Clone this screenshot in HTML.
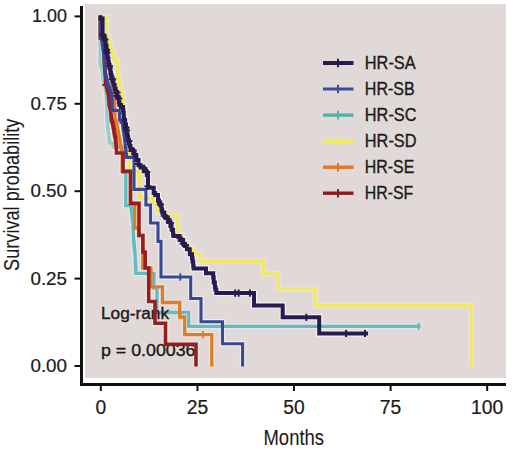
<!DOCTYPE html>
<html><head><meta charset="utf-8"><style>
html,body{margin:0;padding:0;background:#fff;}
svg{display:block;}
text{font-family:"Liberation Sans",sans-serif;fill:#1c1a1a;stroke:#1c1a1a;stroke-width:0.35px;}
</style></head><body>
<svg width="520" height="459" viewBox="0 0 520 459">
<rect x="0" y="0" width="520" height="459" fill="#ffffff"/>
<rect x="85" y="4" width="421" height="374" fill="#e0d9d8"/>
<path d="M100.5 15.6L100.5 17.6L106.5 17.6L106.5 37.0L108.0 37.0L108.0 40.0L108.5 40.0L108.5 41.6L109.5 41.6L109.5 44.9L110.1 44.9L110.1 47.1L111.0 47.1L111.0 50.0L111.5 50.0L111.5 51.7L113.0 51.7L113.0 57.0L114.0 57.0L114.0 59.0L115.3 59.0L115.3 61.5L117.1 61.5L117.1 65.0L117.3 65.0L117.3 70.0L117.4 70.0L117.4 71.8L117.5 71.8L117.5 75.0L118.1 75.0L118.1 78.7L119.0 78.7L119.0 83.7L119.2 83.7L119.2 85.0L120.5 85.0L120.5 90.0L121.1 90.0L121.1 92.6L122.0 92.6L122.0 96.0L122.5 96.0L122.5 98.9L123.3 98.9L123.3 104.0L123.5 104.0L123.5 105.0L123.8 105.0L123.8 107.1L124.1 107.1L124.1 109.3L124.4 109.3L124.4 112.0L124.5 112.0L124.5 114.4L124.5 114.4L124.5 117.9L124.6 117.9L124.6 120.0L125.0 120.0L125.0 122.6L125.2 122.6L125.2 124.1L125.7 124.1L125.7 127.2L126.1 127.2L126.1 130.2L126.6 130.2L126.6 134.0L127.5 134.0L127.5 140.0L128.4 140.0L128.4 144.3L129.1 144.3L129.1 147.8L129.5 147.8L129.5 150.0L129.5 171.0L139.5 171.0L139.5 198.0L151.0 198.0L153.2 198.0L153.2 202.2L154.2 202.2L154.2 203.9L156.9 203.9L156.9 209.0L158.7 209.0L158.7 212.4L166.0 212.4L166.0 216.0L178.0 216.0L178.0 221.0L178.0 235.5L182.0 235.5L182.0 240.0L184.5 240.0L184.5 243.1L187.6 243.1L187.6 247.0L189.5 247.0L189.5 248.9L193.5 248.9L193.5 253.0L194.5 253.0L194.5 254.0L200.5 254.0L200.5 261.4L263.5 261.4L263.5 274.0L278.3 274.0L278.3 288.8L315.0 288.8L315.0 305.4L471.0 305.4L471.0 367.0" stroke="#f7f4f3" stroke-width="5.9" fill="none" stroke-linejoin="miter" opacity="0.35"/>
<path d="M100.1 15.6L100.1 64.0L100.9 64.0L100.9 66.7L101.7 66.7L101.7 69.3L102.5 69.3L102.5 72.0L102.7 72.0L102.7 74.7L102.8 74.7L102.8 77.3L103.0 77.3L103.0 80.0L103.7 80.0L103.7 82.7L104.3 82.7L104.3 85.3L105.0 85.3L105.0 88.0L105.4 88.0L105.4 90.7L105.7 90.7L105.7 93.3L106.1 93.3L106.1 96.0L106.3 96.0L106.3 99.0L106.5 99.0L106.5 102.0L106.7 102.0L106.7 105.0L106.8 105.0L106.8 108.0L106.8 108.0L106.8 111.0L106.9 111.0L106.9 114.0L106.9 114.0L106.9 117.0L107.0 117.0L107.0 120.0L107.3 120.0L107.3 123.0L107.6 123.0L107.6 126.0L107.9 126.0L107.9 129.0L108.2 129.0L108.2 132.0L108.5 132.0L108.5 135.0L108.8 135.0L108.8 137.7L109.2 137.7L109.2 140.3L109.5 140.3L109.5 143.0L113.0 143.0L113.0 147.0L123.0 147.0L123.0 150.0L123.0 172.0L125.8 172.0L125.8 205.7L130.8 205.7L131.1 205.7L131.1 208.5L131.4 208.5L131.4 211.2L131.7 211.2L131.7 214.0L132.1 214.0L132.1 216.7L132.4 216.7L132.4 219.5L132.7 219.5L132.7 222.2L133.0 222.2L133.0 225.0L133.1 225.0L133.1 228.0L133.2 228.0L133.2 231.0L133.3 231.0L133.3 234.0L133.4 234.0L133.4 237.0L133.5 237.0L133.5 240.0L133.8 240.0L133.8 243.0L134.1 243.0L134.1 246.0L134.4 246.0L134.4 249.0L134.7 249.0L134.7 252.0L135.0 252.0L135.0 255.0L135.2 255.0L135.2 258.0L135.3 258.0L135.3 261.0L135.5 261.0L135.5 264.0L135.6 264.0L135.6 267.0L135.8 267.0L135.8 270.0L135.8 273.3L154.0 273.3L154.0 288.0L157.0 288.0L157.0 312.5L188.7 312.5L188.7 326.3L420.5 326.3" stroke="#f7f4f3" stroke-width="5.7" fill="none" stroke-linejoin="miter" opacity="0.45"/>
<path d="M100.5 15.6L100.5 38.0L102.5 38.0L102.5 42.0L103.2 42.0L103.2 44.6L103.8 44.6L103.8 47.2L104.5 47.2L104.5 49.8L105.1 49.8L105.1 52.4L105.8 52.4L105.8 55.0L106.5 55.0L106.5 57.5L107.2 57.5L107.2 60.0L107.8 60.0L107.8 62.5L108.5 62.5L108.5 65.0L109.0 65.0L109.0 67.5L109.5 67.5L109.5 70.0L110.0 70.0L110.0 72.5L110.5 72.5L110.5 75.0L111.0 75.0L111.0 77.5L111.5 77.5L111.5 80.0L112.0 80.0L112.0 82.5L112.5 82.5L112.5 85.0L112.9 85.0L112.9 87.8L113.2 87.8L113.2 90.5L113.6 90.5L113.6 93.2L114.0 93.2L114.0 96.0L114.2 96.0L114.2 99.0L114.4 99.0L114.4 102.0L114.6 102.0L114.6 105.0L114.7 105.0L114.7 108.0L114.8 108.0L114.8 111.0L114.8 111.0L114.8 114.0L114.9 114.0L114.9 117.0L115.0 117.0L115.0 120.0L115.8 120.0L115.8 122.5L116.5 122.5L116.5 125.0L117.1 125.0L117.1 128.0L117.7 128.0L117.7 131.0L118.3 131.0L118.3 134.0L118.9 134.0L118.9 137.0L119.5 137.0L119.5 140.0L120.0 140.0L120.0 143.0L120.5 143.0L120.5 146.0L121.1 146.0L121.1 149.0L121.6 149.0L121.6 152.0L122.1 152.0L122.1 155.0L122.1 171.4L130.5 171.4L130.5 203.4L134.8 203.4L134.8 228.0L138.5 228.0L138.5 235.5L142.8 235.5L142.8 268.0L151.0 268.0L151.0 286.8L162.5 286.8L162.5 302.5L179.7 302.5L179.7 317.0L184.7 317.0L184.7 334.6L211.8 334.6L211.8 366.5" stroke="#f7f4f3" stroke-width="5.7" fill="none" stroke-linejoin="miter" opacity="0.45"/>
<path d="M100.3 15.6L100.3 38.0L102.2 38.0L102.2 40.0L102.5 40.0L102.5 42.5L102.8 42.5L102.8 45.0L103.2 45.0L103.2 47.5L103.5 47.5L103.5 50.0L103.8 50.0L103.8 53.5L104.0 53.5L104.0 57.0L104.2 57.0L104.2 59.7L104.3 59.7L104.3 62.3L104.5 62.3L104.5 65.0L104.7 65.0L104.7 67.5L104.9 67.5L104.9 70.0L105.1 70.0L105.1 72.5L105.3 72.5L105.3 75.0L105.5 75.0L105.5 78.0L105.6 78.0L105.6 81.0L105.8 81.0L105.8 84.0L106.5 84.0L106.5 87.0L107.2 87.0L107.2 90.0L107.8 90.0L107.8 93.0L108.5 93.0L108.5 96.0L108.7 96.0L108.7 99.0L109.0 99.0L109.0 102.0L109.2 102.0L109.2 105.0L109.8 105.0L109.8 107.5L110.5 107.5L110.5 110.0L110.7 110.0L110.7 112.5L110.9 112.5L110.9 115.0L111.1 115.0L111.1 117.5L111.3 117.5L111.3 120.0L112.0 120.0L112.0 122.5L112.8 122.5L112.8 125.0L113.2 125.0L113.2 127.5L113.7 127.5L113.7 130.0L114.1 130.0L114.1 132.5L114.5 132.5L114.5 135.0L115.0 135.0L115.0 137.5L115.5 137.5L115.5 140.0L115.8 140.0L115.8 142.5L116.0 142.5L116.0 145.0L116.2 145.0L116.2 147.5L116.5 147.5L116.5 150.0L116.5 153.0L123.0 153.0L123.0 171.4L130.5 171.4L130.5 203.4L139.0 203.4L139.0 235.5L142.9 235.5L142.9 252.0L145.2 252.0L145.2 268.0L148.7 268.0L148.7 301.5L155.0 301.5L155.0 323.3L165.5 323.3L165.5 344.4L196.0 344.4L196.0 366.5" stroke="#f7f4f3" stroke-width="6.0" fill="none" stroke-linejoin="miter" opacity="0.60"/>
<path d="M100.3 15.6L100.3 38.0L102.2 38.0L102.2 40.0L102.5 40.0L102.5 42.5L102.8 42.5L102.8 45.0L103.2 45.0L103.2 47.5L103.5 47.5L103.5 50.0L103.8 50.0L103.8 53.5L104.0 53.5L104.0 57.0L104.2 57.0L104.2 59.7L104.3 59.7L104.3 62.3L104.5 62.3L104.5 65.0L104.8 65.0L104.8 67.5L105.0 67.5L105.0 70.0L105.2 70.0L105.2 72.5L105.5 72.5L105.5 75.0L106.1 75.0L106.1 77.5L106.8 77.5L106.8 80.0L107.4 80.0L107.4 82.5L108.0 82.5L108.0 85.0L108.9 85.0L108.9 87.8L109.8 87.8L109.8 90.5L110.7 90.5L110.7 93.2L111.6 93.2L111.6 96.0L111.8 96.0L111.8 99.0L112.0 99.0L112.0 102.0L112.2 102.0L112.2 105.0L112.2 110.4L119.2 110.4L119.3 110.4L119.3 113.6L119.5 113.6L119.5 116.8L119.6 116.8L119.6 120.0L121.0 120.0L121.0 122.5L122.5 122.5L122.5 125.0L122.9 125.0L122.9 128.0L123.3 128.0L123.3 131.0L123.8 131.0L123.8 134.0L124.2 134.0L124.2 137.0L124.6 137.0L124.6 140.0L124.9 140.0L124.9 142.9L125.2 142.9L125.2 145.8L125.5 145.8L125.5 148.7L125.9 148.7L125.9 151.6L126.2 151.6L126.2 154.5L126.5 154.5L126.5 157.4L134.0 157.4L134.0 189.4L145.9 189.4L145.9 205.0L150.5 205.0L150.5 223.0L158.0 223.0L158.0 241.4L161.0 241.4L161.0 277.0L190.7 277.0L190.7 298.5L201.0 298.5L201.0 321.8L222.5 321.8L222.5 343.8L242.6 343.8L242.6 366.5" stroke="#f7f4f3" stroke-width="5.5" fill="none" stroke-linejoin="miter" opacity="0.75"/>
<path d="M100.5 15.6L100.5 18.6L102.6 18.6L102.6 36.0L104.5 36.0L104.5 38.0L104.9 38.0L104.9 40.1L105.5 40.1L105.5 44.2L105.8 44.2L105.8 46.0L106.5 46.0L106.5 50.0L106.9 50.0L106.9 53.0L107.2 53.0L107.2 54.7L107.5 54.7L107.5 57.0L107.8 57.0L107.8 58.6L108.4 58.6L108.4 61.9L108.7 61.9L108.7 63.7L109.0 63.7L109.0 65.0L109.6 65.0L109.6 68.2L110.6 68.2L110.6 73.0L111.0 73.0L111.0 75.0L111.6 75.0L111.6 77.4L112.6 77.4L112.6 81.4L113.5 81.4L113.5 85.0L114.7 85.0L114.7 88.8L115.7 88.8L115.7 91.9L117.0 91.9L117.0 96.0L117.5 96.0L117.5 97.7L118.8 97.7L118.8 102.6L119.5 102.6L119.5 105.0L121.0 105.0L121.0 107.1L123.0 107.1L123.0 110.0L123.3 110.0L123.3 112.7L123.7 112.7L123.7 117.5L124.0 117.5L124.0 120.0L125.1 120.0L125.1 123.8L125.5 123.8L125.5 125.0L126.0 125.0L126.0 128.0L126.6 128.0L126.6 131.7L126.9 131.7L126.9 133.4L127.2 133.4L127.2 135.0L127.7 135.0L127.7 137.3L128.2 137.3L128.2 140.0L128.9 140.0L128.9 143.2L129.6 143.2L129.6 146.0L130.5 146.0L130.5 150.0L133.2 150.0L133.2 153.3L134.6 153.3L134.6 155.0L136.4 155.0L136.4 160.0L138.5 160.0L138.5 165.0L140.6 165.0L140.6 167.5L143.8 167.5L143.8 171.3L146.8 171.3L146.8 174.9L148.0 174.9L148.0 176.3L148.0 187.7L153.7 187.7L153.7 192.9L155.2 192.9L155.2 195.0L158.0 195.0L158.0 200.4L159.0 200.4L159.0 202.4L160.3 202.4L160.3 205.0L161.5 205.0L161.5 209.5L162.2 209.5L162.2 212.4L164.3 212.4L164.3 215.9L165.3 215.9L165.3 217.5L167.8 217.5L167.8 221.7L170.4 221.7L170.4 226.0L171.6 226.0L171.6 229.8L173.1 229.8L173.1 234.8L173.5 234.8L173.5 236.0L179.6 236.0L179.6 240.0L183.1 240.0L183.1 243.9L185.0 243.9L185.0 246.0L186.9 246.0L186.9 249.3L189.8 249.3L189.8 254.2L192.0 254.2L192.0 258.0L192.5 258.0L192.5 261.4L193.2 261.4L193.2 265.6L193.5 265.6L193.5 267.3L193.7 267.3L193.7 268.5L206.0 268.5L206.0 273.3L212.8 273.3L213.2 273.3L213.2 277.4L213.7 277.4L213.7 282.4L214.9 282.4L214.9 287.2L215.5 287.2L215.5 289.8L216.3 289.8L216.3 293.1L254.0 293.1L254.0 305.4L282.7 305.4L282.7 317.3L319.2 317.3L319.2 333.5L368.0 333.5" stroke="#f7f4f3" stroke-width="6.4" fill="none" stroke-linejoin="miter" opacity="0.85"/>
<path d="M100.5 15.6L100.5 17.6L106.5 17.6L106.5 37.0L108.0 37.0L108.0 40.0L108.5 40.0L108.5 41.6L109.5 41.6L109.5 44.9L110.1 44.9L110.1 47.1L111.0 47.1L111.0 50.0L111.5 50.0L111.5 51.7L113.0 51.7L113.0 57.0L114.0 57.0L114.0 59.0L115.3 59.0L115.3 61.5L117.1 61.5L117.1 65.0L117.3 65.0L117.3 70.0L117.4 70.0L117.4 71.8L117.5 71.8L117.5 75.0L118.1 75.0L118.1 78.7L119.0 78.7L119.0 83.7L119.2 83.7L119.2 85.0L120.5 85.0L120.5 90.0L121.1 90.0L121.1 92.6L122.0 92.6L122.0 96.0L122.5 96.0L122.5 98.9L123.3 98.9L123.3 104.0L123.5 104.0L123.5 105.0L123.8 105.0L123.8 107.1L124.1 107.1L124.1 109.3L124.4 109.3L124.4 112.0L124.5 112.0L124.5 114.4L124.5 114.4L124.5 117.9L124.6 117.9L124.6 120.0L125.0 120.0L125.0 122.6L125.2 122.6L125.2 124.1L125.7 124.1L125.7 127.2L126.1 127.2L126.1 130.2L126.6 130.2L126.6 134.0L127.5 134.0L127.5 140.0L128.4 140.0L128.4 144.3L129.1 144.3L129.1 147.8L129.5 147.8L129.5 150.0L129.5 171.0L139.5 171.0L139.5 198.0L151.0 198.0L153.2 198.0L153.2 202.2L154.2 202.2L154.2 203.9L156.9 203.9L156.9 209.0L158.7 209.0L158.7 212.4L166.0 212.4L166.0 216.0L178.0 216.0L178.0 221.0L178.0 235.5L182.0 235.5L182.0 240.0L184.5 240.0L184.5 243.1L187.6 243.1L187.6 247.0L189.5 247.0L189.5 248.9L193.5 248.9L193.5 253.0L194.5 253.0L194.5 254.0L200.5 254.0L200.5 261.4L263.5 261.4L263.5 274.0L278.3 274.0L278.3 288.8L315.0 288.8L315.0 305.4L471.0 305.4L471.0 367.0" stroke="#f1e866" stroke-width="3.5" fill="none" stroke-linejoin="miter"/>
<path d="M100.1 15.6L100.1 64.0L100.9 64.0L100.9 66.7L101.7 66.7L101.7 69.3L102.5 69.3L102.5 72.0L102.7 72.0L102.7 74.7L102.8 74.7L102.8 77.3L103.0 77.3L103.0 80.0L103.7 80.0L103.7 82.7L104.3 82.7L104.3 85.3L105.0 85.3L105.0 88.0L105.4 88.0L105.4 90.7L105.7 90.7L105.7 93.3L106.1 93.3L106.1 96.0L106.3 96.0L106.3 99.0L106.5 99.0L106.5 102.0L106.7 102.0L106.7 105.0L106.8 105.0L106.8 108.0L106.8 108.0L106.8 111.0L106.9 111.0L106.9 114.0L106.9 114.0L106.9 117.0L107.0 117.0L107.0 120.0L107.3 120.0L107.3 123.0L107.6 123.0L107.6 126.0L107.9 126.0L107.9 129.0L108.2 129.0L108.2 132.0L108.5 132.0L108.5 135.0L108.8 135.0L108.8 137.7L109.2 137.7L109.2 140.3L109.5 140.3L109.5 143.0L113.0 143.0L113.0 147.0L123.0 147.0L123.0 150.0" stroke="#94cfcc" stroke-width="3.3" fill="none" stroke-linejoin="miter"/>
<path d="M123.0 150.0L123.0 172.0L125.8 172.0L125.8 205.7L130.8 205.7L131.1 205.7L131.1 208.5L131.4 208.5L131.4 211.2L131.7 211.2L131.7 214.0L132.1 214.0L132.1 216.7L132.4 216.7L132.4 219.5L132.7 219.5L132.7 222.2L133.0 222.2L133.0 225.0L133.1 225.0L133.1 228.0L133.2 228.0L133.2 231.0L133.3 231.0L133.3 234.0L133.4 234.0L133.4 237.0L133.5 237.0L133.5 240.0L133.8 240.0L133.8 243.0L134.1 243.0L134.1 246.0L134.4 246.0L134.4 249.0L134.7 249.0L134.7 252.0L135.0 252.0L135.0 255.0L135.2 255.0L135.2 258.0L135.3 258.0L135.3 261.0L135.5 261.0L135.5 264.0L135.6 264.0L135.6 267.0L135.8 267.0L135.8 270.0L135.8 273.3L154.0 273.3L154.0 288.0L157.0 288.0L157.0 312.5L188.7 312.5L188.7 326.3L420.5 326.3" stroke="#62bcbf" stroke-width="3.3" fill="none" stroke-linejoin="miter"/>
<line x1="418.6" y1="322.7" x2="418.6" y2="329.9" stroke="#62bcbf" stroke-width="2"/>
<path d="M100.5 15.6L100.5 38.0L102.5 38.0L102.5 42.0L103.2 42.0L103.2 44.6L103.8 44.6L103.8 47.2L104.5 47.2L104.5 49.8L105.1 49.8L105.1 52.4L105.8 52.4L105.8 55.0L106.5 55.0L106.5 57.5L107.2 57.5L107.2 60.0L107.8 60.0L107.8 62.5L108.5 62.5L108.5 65.0L109.0 65.0L109.0 67.5L109.5 67.5L109.5 70.0L110.0 70.0L110.0 72.5L110.5 72.5L110.5 75.0L111.0 75.0L111.0 77.5L111.5 77.5L111.5 80.0L112.0 80.0L112.0 82.5L112.5 82.5L112.5 85.0L112.9 85.0L112.9 87.8L113.2 87.8L113.2 90.5L113.6 90.5L113.6 93.2L114.0 93.2L114.0 96.0L114.2 96.0L114.2 99.0L114.4 99.0L114.4 102.0L114.6 102.0L114.6 105.0L114.7 105.0L114.7 108.0L114.8 108.0L114.8 111.0L114.8 111.0L114.8 114.0L114.9 114.0L114.9 117.0L115.0 117.0L115.0 120.0L115.8 120.0L115.8 122.5L116.5 122.5L116.5 125.0L117.1 125.0L117.1 128.0L117.7 128.0L117.7 131.0L118.3 131.0L118.3 134.0L118.9 134.0L118.9 137.0L119.5 137.0L119.5 140.0L120.0 140.0L120.0 143.0L120.5 143.0L120.5 146.0L121.1 146.0L121.1 149.0L121.6 149.0L121.6 152.0L122.1 152.0L122.1 155.0L122.1 171.4L130.5 171.4L130.5 203.4L134.8 203.4L134.8 228.0L138.5 228.0L138.5 235.5L142.8 235.5L142.8 268.0L151.0 268.0L151.0 286.8L162.5 286.8L162.5 302.5L179.7 302.5L179.7 317.0L184.7 317.0L184.7 334.6L211.8 334.6L211.8 366.5" stroke="#e07c28" stroke-width="3.3" fill="none" stroke-linejoin="miter"/>
<line x1="202.9" y1="331.0" x2="202.9" y2="338.2" stroke="#e07c28" stroke-width="2"/>
<text x="101" y="319.2" font-size="16" textLength="68" lengthAdjust="spacingAndGlyphs">Log-rank</text>
<text x="101" y="355.6" font-size="16" textLength="94.5" lengthAdjust="spacingAndGlyphs">p = 0.00036</text>
<path d="M100.3 15.6L100.3 38.0L102.2 38.0L102.2 40.0L102.5 40.0L102.5 42.5L102.8 42.5L102.8 45.0L103.2 45.0L103.2 47.5L103.5 47.5L103.5 50.0L103.8 50.0L103.8 53.5L104.0 53.5L104.0 57.0L104.2 57.0L104.2 59.7L104.3 59.7L104.3 62.3L104.5 62.3L104.5 65.0L104.7 65.0L104.7 67.5L104.9 67.5L104.9 70.0L105.1 70.0L105.1 72.5L105.3 72.5L105.3 75.0L105.5 75.0L105.5 78.0L105.6 78.0L105.6 81.0L105.8 81.0L105.8 84.0L106.5 84.0L106.5 87.0L107.2 87.0L107.2 90.0L107.8 90.0L107.8 93.0L108.5 93.0L108.5 96.0L108.7 96.0L108.7 99.0L109.0 99.0L109.0 102.0L109.2 102.0L109.2 105.0L109.8 105.0L109.8 107.5L110.5 107.5L110.5 110.0L110.7 110.0L110.7 112.5L110.9 112.5L110.9 115.0L111.1 115.0L111.1 117.5L111.3 117.5L111.3 120.0L112.0 120.0L112.0 122.5L112.8 122.5L112.8 125.0L113.2 125.0L113.2 127.5L113.7 127.5L113.7 130.0L114.1 130.0L114.1 132.5L114.5 132.5L114.5 135.0L115.0 135.0L115.0 137.5L115.5 137.5L115.5 140.0L115.8 140.0L115.8 142.5L116.0 142.5L116.0 145.0L116.2 145.0L116.2 147.5L116.5 147.5L116.5 150.0L116.5 153.0L123.0 153.0L123.0 171.4L130.5 171.4L130.5 203.4L139.0 203.4L139.0 235.5L142.9 235.5L142.9 252.0L145.2 252.0L145.2 268.0L148.7 268.0L148.7 301.5L155.0 301.5L155.0 323.3L165.5 323.3L165.5 344.4L196.0 344.4L196.0 366.5" stroke="#951f20" stroke-width="3.6" fill="none" stroke-linejoin="miter"/>
<path d="M102.3 85.0h7M105.8 81.5v7" stroke="#951f20" stroke-width="2"/>
<path d="M100.3 15.6L100.3 38.0L102.2 38.0L102.2 40.0L102.5 40.0L102.5 42.5L102.8 42.5L102.8 45.0L103.2 45.0L103.2 47.5L103.5 47.5L103.5 50.0L103.8 50.0L103.8 53.5L104.0 53.5L104.0 57.0L104.2 57.0L104.2 59.7L104.3 59.7L104.3 62.3L104.5 62.3L104.5 65.0L104.8 65.0L104.8 67.5L105.0 67.5L105.0 70.0L105.2 70.0L105.2 72.5L105.5 72.5L105.5 75.0L106.1 75.0L106.1 77.5L106.8 77.5L106.8 80.0L107.4 80.0L107.4 82.5L108.0 82.5L108.0 85.0L108.9 85.0L108.9 87.8L109.8 87.8L109.8 90.5L110.7 90.5L110.7 93.2L111.6 93.2L111.6 96.0L111.8 96.0L111.8 99.0L112.0 99.0L112.0 102.0L112.2 102.0L112.2 105.0L112.2 110.4L119.2 110.4L119.3 110.4L119.3 113.6L119.5 113.6L119.5 116.8L119.6 116.8L119.6 120.0L121.0 120.0L121.0 122.5L122.5 122.5L122.5 125.0L122.9 125.0L122.9 128.0L123.3 128.0L123.3 131.0L123.8 131.0L123.8 134.0L124.2 134.0L124.2 137.0L124.6 137.0L124.6 140.0L124.9 140.0L124.9 142.9L125.2 142.9L125.2 145.8L125.5 145.8L125.5 148.7L125.9 148.7L125.9 151.6L126.2 151.6L126.2 154.5L126.5 154.5L126.5 157.4L134.0 157.4L134.0 189.4L145.9 189.4L145.9 205.0L150.5 205.0L150.5 223.0L158.0 223.0L158.0 241.4L161.0 241.4L161.0 277.0L190.7 277.0L190.7 298.5L201.0 298.5L201.0 321.8L222.5 321.8L222.5 343.8L242.6 343.8L242.6 366.5" stroke="#394896" stroke-width="3.1" fill="none" stroke-linejoin="miter"/>
<line x1="180.3" y1="273.4" x2="180.3" y2="280.6" stroke="#394896" stroke-width="2"/>
<path d="M100.5 15.6L100.5 18.6L102.6 18.6L102.6 36.0L104.5 36.0L104.5 38.0L104.9 38.0L104.9 40.1L105.5 40.1L105.5 44.2L105.8 44.2L105.8 46.0L106.5 46.0L106.5 50.0L106.9 50.0L106.9 53.0L107.2 53.0L107.2 54.7L107.5 54.7L107.5 57.0L107.8 57.0L107.8 58.6L108.4 58.6L108.4 61.9L108.7 61.9L108.7 63.7L109.0 63.7L109.0 65.0L109.6 65.0L109.6 68.2L110.6 68.2L110.6 73.0L111.0 73.0L111.0 75.0L111.6 75.0L111.6 77.4L112.6 77.4L112.6 81.4L113.5 81.4L113.5 85.0L114.7 85.0L114.7 88.8L115.7 88.8L115.7 91.9L117.0 91.9L117.0 96.0L117.5 96.0L117.5 97.7L118.8 97.7L118.8 102.6L119.5 102.6L119.5 105.0L121.0 105.0L121.0 107.1L123.0 107.1L123.0 110.0L123.3 110.0L123.3 112.7L123.7 112.7L123.7 117.5L124.0 117.5L124.0 120.0L125.1 120.0L125.1 123.8L125.5 123.8L125.5 125.0L126.0 125.0L126.0 128.0L126.6 128.0L126.6 131.7L126.9 131.7L126.9 133.4L127.2 133.4L127.2 135.0L127.7 135.0L127.7 137.3L128.2 137.3L128.2 140.0L128.9 140.0L128.9 143.2L129.6 143.2L129.6 146.0L130.5 146.0L130.5 150.0L133.2 150.0L133.2 153.3L134.6 153.3L134.6 155.0L136.4 155.0L136.4 160.0L138.5 160.0L138.5 165.0L140.6 165.0L140.6 167.5L143.8 167.5L143.8 171.3L146.8 171.3L146.8 174.9L148.0 174.9L148.0 176.3L148.0 187.7L153.7 187.7L153.7 192.9L155.2 192.9L155.2 195.0L158.0 195.0L158.0 200.4L159.0 200.4L159.0 202.4L160.3 202.4L160.3 205.0L161.5 205.0L161.5 209.5L162.2 209.5L162.2 212.4L164.3 212.4L164.3 215.9L165.3 215.9L165.3 217.5L167.8 217.5L167.8 221.7L170.4 221.7L170.4 226.0L171.6 226.0L171.6 229.8L173.1 229.8L173.1 234.8L173.5 234.8L173.5 236.0L179.6 236.0L179.6 240.0L183.1 240.0L183.1 243.9L185.0 243.9L185.0 246.0L186.9 246.0L186.9 249.3L189.8 249.3L189.8 254.2L192.0 254.2L192.0 258.0L192.5 258.0L192.5 261.4L193.2 261.4L193.2 265.6L193.5 265.6L193.5 267.3L193.7 267.3L193.7 268.5L206.0 268.5L206.0 273.3L212.8 273.3L213.2 273.3L213.2 277.4L213.7 277.4L213.7 282.4L214.9 282.4L214.9 287.2L215.5 287.2L215.5 289.8L216.3 289.8L216.3 293.1L254.0 293.1L254.0 305.4L282.7 305.4L282.7 317.3L319.2 317.3L319.2 333.5L368.0 333.5" stroke="#271b50" stroke-width="4.0" fill="none" stroke-linejoin="miter"/>
<line x1="235.1" y1="289.5" x2="235.1" y2="296.7" stroke="#271b50" stroke-width="2"/>
<line x1="238.6" y1="289.5" x2="238.6" y2="296.7" stroke="#271b50" stroke-width="2"/>
<line x1="249.9" y1="289.5" x2="249.9" y2="296.7" stroke="#271b50" stroke-width="2"/>
<line x1="306.3" y1="313.7" x2="306.3" y2="320.9" stroke="#271b50" stroke-width="2"/>
<line x1="346.1" y1="329.9" x2="346.1" y2="337.1" stroke="#271b50" stroke-width="2"/>
<line x1="365.0" y1="329.9" x2="365.0" y2="337.1" stroke="#271b50" stroke-width="2"/>
<path d="M99.1 34.5h7M102.6 31.0v7" stroke="#271b50" stroke-width="2"/>
<path d="M101.4 39.6h7M104.9 36.1v7" stroke="#271b50" stroke-width="2"/>
<path d="M103.0 50.0h7M106.5 46.5v7" stroke="#271b50" stroke-width="2"/>
<path d="M103.4 52.7h7M106.9 49.2v7" stroke="#271b50" stroke-width="2"/>
<path d="M106.1 66.3h7M109.6 62.8v7" stroke="#271b50" stroke-width="2"/>
<path d="M109.1 79.3h7M112.6 75.8v7" stroke="#271b50" stroke-width="2"/>
<path d="M113.5 92.4h7M117.0 88.9v7" stroke="#271b50" stroke-width="2"/>
<path d="M113.5 96.0h7M117.0 92.5v7" stroke="#271b50" stroke-width="2"/>
<path d="M115.3 98.5h7M118.8 95.0v7" stroke="#271b50" stroke-width="2"/>
<path d="M122.5 127.8h7M126.0 124.3v7" stroke="#271b50" stroke-width="2"/>
<path d="M123.1 130.5h7M126.6 127.0v7" stroke="#271b50" stroke-width="2"/>
<path d="M125.4 140.9h7M128.9 137.4v7" stroke="#271b50" stroke-width="2"/>
<path d="M129.7 150.6h7M133.2 147.1v7" stroke="#271b50" stroke-width="2"/>
<path d="M135.0 164.0h7M138.5 160.5v7" stroke="#271b50" stroke-width="2"/>
<path d="M140.3 167.9h7M143.8 164.4v7" stroke="#271b50" stroke-width="2"/>
<path d="M143.3 172.0h7M146.8 168.5v7" stroke="#271b50" stroke-width="2"/>
<path d="M144.5 186.3h7M148.0 182.8v7" stroke="#271b50" stroke-width="2"/>
<path d="M156.8 204.6h7M160.3 201.1v7" stroke="#271b50" stroke-width="2"/>
<path d="M160.8 215.7h7M164.3 212.2v7" stroke="#271b50" stroke-width="2"/>
<path d="M164.3 219.0h7M167.8 215.5v7" stroke="#271b50" stroke-width="2"/>
<path d="M166.9 222.9h7M170.4 219.4v7" stroke="#271b50" stroke-width="2"/>
<path d="M176.1 237.8h7M179.6 234.3v7" stroke="#271b50" stroke-width="2"/>
<path d="M179.6 243.4h7M183.1 239.9v7" stroke="#271b50" stroke-width="2"/>

<line x1="323" y1="63.0" x2="353.5" y2="63.0" stroke="#281c52" stroke-width="4.0"/>
<line x1="338" y1="58.7" x2="338" y2="67.3" stroke="#281c52" stroke-width="2"/>
<text x="364.8" y="68.6" font-size="17.6" textLength="50.9" lengthAdjust="spacingAndGlyphs">HR-SA</text>
<line x1="323" y1="89.0" x2="353.5" y2="89.0" stroke="#3a4c9c" stroke-width="3.0"/>
<line x1="338" y1="84.8" x2="338" y2="93.3" stroke="#3a4c9c" stroke-width="2"/>
<text x="364.8" y="94.6" font-size="17.6" textLength="50.0" lengthAdjust="spacingAndGlyphs">HR-SB</text>
<line x1="323" y1="115.1" x2="353.5" y2="115.1" stroke="#52b3a8" stroke-width="3.4"/>
<line x1="338" y1="110.8" x2="338" y2="119.4" stroke="#52b3a8" stroke-width="2"/>
<text x="364.8" y="120.7" font-size="17.6" textLength="51.7" lengthAdjust="spacingAndGlyphs">HR-SC</text>
<line x1="323" y1="141.2" x2="353.5" y2="141.2" stroke="#f1ec5c" stroke-width="3.6"/>
<line x1="338" y1="136.8" x2="338" y2="145.5" stroke="#f1ec5c" stroke-width="2"/>
<text x="364.8" y="146.8" font-size="17.6" textLength="51.7" lengthAdjust="spacingAndGlyphs">HR-SD</text>
<line x1="323" y1="167.2" x2="353.5" y2="167.2" stroke="#e2772a" stroke-width="3.4"/>
<line x1="338" y1="162.9" x2="338" y2="171.5" stroke="#e2772a" stroke-width="2"/>
<text x="364.8" y="172.8" font-size="17.6" textLength="49.5" lengthAdjust="spacingAndGlyphs">HR-SE</text>
<line x1="323" y1="193.2" x2="353.5" y2="193.2" stroke="#8c1c1e" stroke-width="3.4"/>
<line x1="338" y1="188.9" x2="338" y2="197.6" stroke="#8c1c1e" stroke-width="2"/>
<text x="364.8" y="198.8" font-size="17.6" textLength="48.5" lengthAdjust="spacingAndGlyphs">HR-SF</text>

<line x1="81.5" y1="6" x2="81.5" y2="386" stroke="#111" stroke-width="3"/>
<line x1="80" y1="384.5" x2="506" y2="384.5" stroke="#111" stroke-width="3"/>
<line x1="74.5" y1="16.4" x2="80" y2="16.4" stroke="#111" stroke-width="2"/>
<text x="67" y="22.4" font-size="18.8" text-anchor="end" textLength="35" lengthAdjust="spacingAndGlyphs" style="stroke-width:0.2px">1.00</text>
<line x1="74.5" y1="103.8" x2="80" y2="103.8" stroke="#111" stroke-width="2"/>
<text x="67" y="109.8" font-size="18.8" text-anchor="end" style="stroke-width:0.2px">0.75</text>
<line x1="74.5" y1="191.2" x2="80" y2="191.2" stroke="#111" stroke-width="2"/>
<text x="67" y="197.2" font-size="18.8" text-anchor="end" style="stroke-width:0.2px">0.50</text>
<line x1="74.5" y1="278.6" x2="80" y2="278.6" stroke="#111" stroke-width="2"/>
<text x="67" y="284.6" font-size="18.8" text-anchor="end" style="stroke-width:0.2px">0.25</text>
<line x1="74.5" y1="366.0" x2="80" y2="366.0" stroke="#111" stroke-width="2"/>
<text x="67" y="372.0" font-size="18.8" text-anchor="end" style="stroke-width:0.2px">0.00</text>
<line x1="100.8" y1="386" x2="100.8" y2="391" stroke="#111" stroke-width="2"/>
<text x="100.8" y="414.2" font-size="19.3" text-anchor="middle" style="stroke-width:0.2px">0</text>
<line x1="197.5" y1="386" x2="197.5" y2="391" stroke="#111" stroke-width="2"/>
<text x="197.5" y="414.2" font-size="19.3" text-anchor="middle" style="stroke-width:0.2px">25</text>
<line x1="294.0" y1="386" x2="294.0" y2="391" stroke="#111" stroke-width="2"/>
<text x="294.0" y="414.2" font-size="19.3" text-anchor="middle" style="stroke-width:0.2px">50</text>
<line x1="390.6" y1="386" x2="390.6" y2="391" stroke="#111" stroke-width="2"/>
<text x="390.6" y="414.2" font-size="19.3" text-anchor="middle" style="stroke-width:0.2px">75</text>
<line x1="487.2" y1="386" x2="487.2" y2="391" stroke="#111" stroke-width="2"/>
<text x="487.2" y="414.2" font-size="19.3" text-anchor="middle" style="stroke-width:0.2px">100</text>

<text x="263.5" y="444.9" font-size="22.2" textLength="60.5" style="stroke-width:0.1px" lengthAdjust="spacingAndGlyphs">Months</text>
<text transform="translate(18.8,270.9) rotate(-90)" x="0" y="0" font-size="22.2" textLength="152.3" style="stroke-width:0.1px" lengthAdjust="spacingAndGlyphs">Survival probability</text>
</svg>
</body></html>
